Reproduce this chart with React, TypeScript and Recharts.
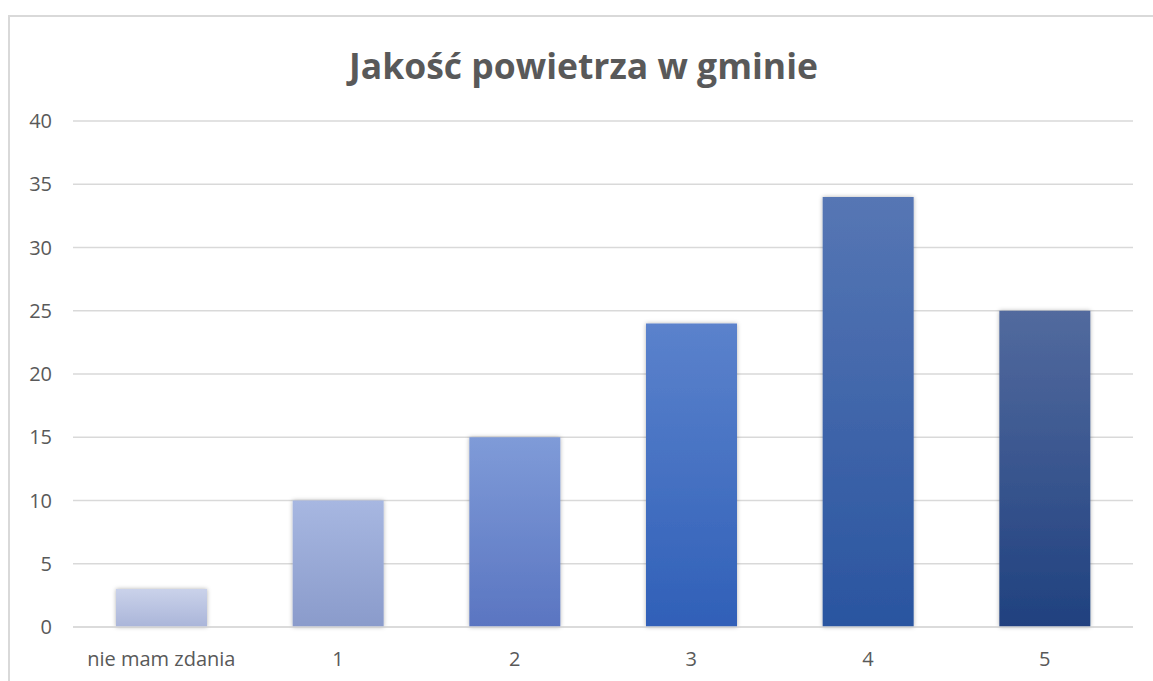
import React from "react";
import { BarChart, Bar, XAxis, YAxis, CartesianGrid, Cell } from "recharts";

const categories = ["nie mam zdania", "1", "2", "3", "4", "5"];
const values = [3, 10, 15, 24, 34, 25];
const yTicks = [0, 5, 10, 15, 20, 25, 30, 35, 40];
const gradTop = ["#cad2ea", "#a7b7e1", "#7f9bd8", "#5b82cc", "#5676b4", "#526a9e"];
const gradBottom = ["#aab5d9", "#8a9bcb", "#5a75c1", "#3060b8", "#2a55a0", "#20417f"];
const title = "Jakość powietrza w gminie";

const data = categories.map((c, i) => ({ name: c, value: values[i] }));

const FONT = "'Open Sans', Lato, sans-serif";

export default function App() {
  return (
    <div style={{ position: "fixed", left: 0, top: 0, width: 1153, height: 681, overflow: "hidden", background: "#fff" }}>
      <div
        style={{
          position: "absolute",
          left: 8,
          top: 15,
          width: 1170,
          height: 720,
          border: "2px solid #d9d9d9",
          boxSizing: "border-box",
        }}
      />
      <div style={{ position: "absolute", left: 0, top: 0 }}>
        <BarChart
          width={1153}
          height={681}
          data={data}
          margin={{ top: 121, right: 20, bottom: 24, left: 0 }}
          barSize={91}
        >
          <defs>
            {gradTop.map((t, i) => (
              <linearGradient key={i} id={`g${i}`} x1="0" y1="0" x2="0" y2="1">
                <stop offset="0%" stopColor={t} />
                <stop offset="100%" stopColor={gradBottom[i]} />
              </linearGradient>
            ))}
            <filter id="sh" x="-20%" y="-20%" width="140%" height="140%">
              <feDropShadow dx="0" dy="0" stdDeviation="2" floodColor="#000" floodOpacity="0.3" />
            </filter>
          </defs>
          <text
            x={583.5}
            y={79}
            textAnchor="middle"
            style={{ fontFamily: FONT, fontWeight: 700, fontSize: 35.5, fill: "#595959" }}
          >
            {title}
          </text>
          <CartesianGrid vertical={false} stroke="#d9d9d9" strokeWidth={1.5} />
          <XAxis
            dataKey="name"
            height={30}
            axisLine={{ stroke: "#d9d9d9", strokeWidth: 1.5 }}
            tickLine={false}
            tickSize={0}
            tickMargin={25}
            interval={0}
            tick={{ fill: "#595959", fontSize: 20, fontFamily: FONT }}
          />
          <YAxis
            width={73}
            domain={[0, 40]}
            ticks={yTicks}
            interval={0}
            axisLine={false}
            tickLine={false}
            tickSize={0}
            tickMargin={21}
            tick={{ fill: "#595959", fontSize: 20, fontFamily: FONT }}
          />
          <Bar dataKey="value" isAnimationActive={false} filter="url(#sh)">
            {data.map((d, i) => (
              <Cell key={i} fill={`url(#g${i})`} />
            ))}
          </Bar>
        </BarChart>
      </div>
    </div>
  );
}
